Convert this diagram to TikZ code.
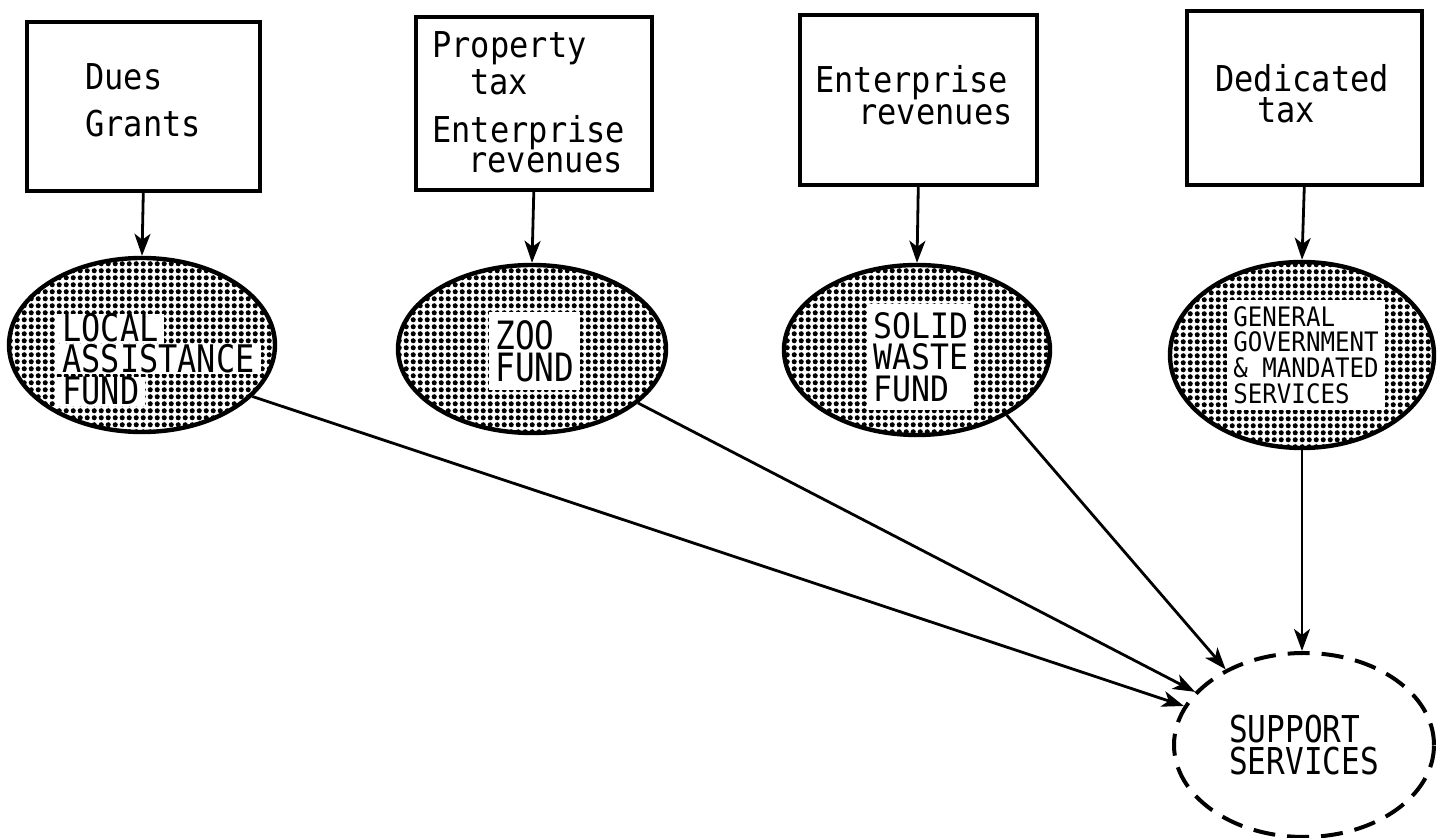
\documentclass[tikz,border=0pt]{standalone}
\usepackage{fontspec}
\usetikzlibrary{shapes.geometric,arrows.meta,patterns}
\newfontfamily\boxfont[FakeStretch=0.9]{DejaVu Sans Mono}
\newfontfamily\capfont[FakeStretch=0.84]{DejaVu Sans Mono}
\pgfdeclarepatternformonly{halftone}{\pgfpointorigin}{\pgfpoint{3.6pt}{3.6pt}}{\pgfpoint{3.6pt}{3.6pt}}{%
  \pgfpathcircle{\pgfpoint{1.8pt}{1.8pt}}{1.4pt}%
  \pgfusepath{fill}}
\begin{document}
\begin{tikzpicture}[x=0.5pt,y=-0.5pt,
  srcbox/.style={draw,line width=1.8pt,inner sep=0,anchor=north west},
  fund/.style={ellipse,draw,line width=2.2pt,pattern=halftone,inner sep=0},
  supp/.style={ellipse,draw,line width=2pt,dash pattern=on 11pt off 6pt,inner sep=0,align=left,
    font=\capfont\fontsize{18.5}{15.75}\selectfont},
  lbl/.style={inner sep=0,anchor=base west,font=\boxfont\fontsize{17.8}{17}\selectfont},
  bigcap/.style={fill=white,inner xsep=3pt,inner ysep=0pt,anchor=base west,
    font=\capfont\fontsize{19}{16}\selectfont},
  capblock/.style={fill=white,inner xsep=3pt,inner ysep=4pt,anchor=north west,align=left},
  conn/.style={line width=1.4pt,-{Stealth[length=11pt,width=8pt,inset=3pt]}}]
\useasboundingbox (0,0) rectangle (1437,838);

% source boxes
\node[srcbox,minimum width=116.5pt,minimum height=84.5pt] (b1) at (25,20) {};
\node[srcbox,minimum width=118pt,minimum height=86.5pt] (b2) at (414,15) {};
\node[srcbox,minimum width=118.5pt,minimum height=85pt] (b3) at (798,13) {};
\node[srcbox,minimum width=117.5pt,minimum height=87pt] (b4) at (1185,9) {};

\node[lbl] (b1a) at (85,90) {Dues};
\node[lbl] (b1b) at (85,137) {Grants};
\node[lbl] (b2a) at (432,58) {Property};
\node[lbl] (b2b) at (470,95) {tax};
\node[lbl] (b2c) at (432,143) {Enterprise};
\node[lbl] (b2d) at (468,173) {revenues};
\node[lbl] (b3a) at (815,93) {Enterprise};
\node[lbl] (b3b) at (858,125) {revenues};
\node[lbl] (b4a) at (1215,92) {Dedicated};
\node[lbl] (b4b) at (1257,123) {tax};

% funds
\node[fund,minimum width=133pt,minimum height=87pt] (e1) at (142,345) {};
\node[fund,minimum width=134pt,minimum height=84pt] (e2) at (532,349) {};
\node[fund,minimum width=133pt,minimum height=85pt] (e3) at (917,350) {};
\node[fund,minimum width=132pt,minimum height=93pt] (e4) at (1302,355) {};

\node[bigcap] (e1a) at (56,342) {LOCAL};
\node[bigcap] (e1b) at (56,373) {ASSISTANCE};
\node[bigcap] (e1c) at (56,405) {FUND};
\node[capblock,font=\capfont\fontsize{19.5}{16}\selectfont] (e2t) at (489,312) {ZOO\\FUND};
\node[capblock,font=\boxfont\fontsize{17.5}{15.75}\selectfont] (e3t) at (867,304) {SOLID\\WASTE\\FUND};
\node[capblock,inner ysep=3pt,font=\boxfont\fontsize{13.4}{12.85}\selectfont] (e4t) at (1227,300) {GENERAL\\GOVERNMENT\\\&~MANDATED\\SERVICES};

% support services
\node[supp,minimum width=130pt,minimum height=92pt] (s) at (1304,745) {SUPPORT\\SERVICES};

% connectors
\draw[conn] (b1.south) -- (e1.north);
\draw[conn] (b2.south) -- (e2.north);
\draw[conn] (b3.south) -- (e3.north);
\draw[conn] (b4.south) -- (e4.north);
\draw[conn] (e1.-25) -- (s.162);
\draw[conn] (e2.-27) -- (s.154);
\draw[conn] (e3.-36) -- (s.136);
\draw[conn] (e4.south) -- (e4.south |- s.north);
\end{tikzpicture}
\end{document}
